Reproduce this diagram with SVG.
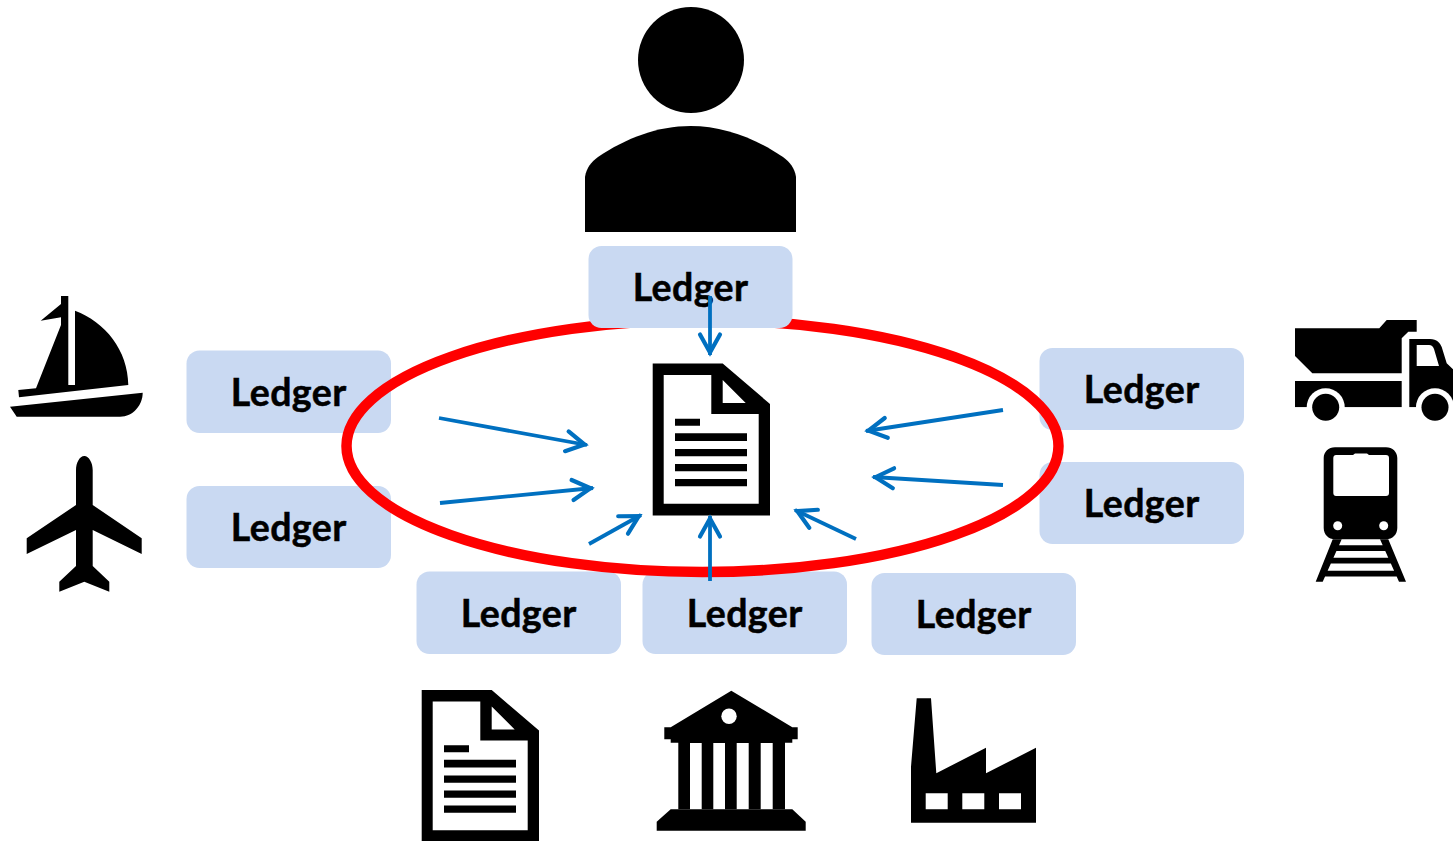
<svg xmlns="http://www.w3.org/2000/svg" width="1453" height="841" viewBox="0 0 1453 841">
<style>
.box{fill:#c9d9f2}
.lbl{font-family:"Lato","Liberation Sans",sans-serif;font-weight:700;font-size:37.5px;letter-spacing:.4px;fill:#000;stroke:#000;stroke-width:.5px;text-anchor:middle}
.conn{fill:none;stroke:#0070c0;stroke-width:3.8;marker-end:url(#arr)}
</style>
<defs>
<marker id="arr" markerUnits="userSpaceOnUse" markerWidth="30" markerHeight="30" refX="27.500" refY="15" orient="auto" overflow="visible">
<path d="M7 5 L25 15 L7 25" fill="none" stroke="#0070c0" stroke-width="4.200" stroke-linecap="round"/>
</marker>
<symbol id="doc" overflow="visible">
<path fill-rule="evenodd" d="M652.7 363.500H722.7L770 404V515.500H652.7ZM663.7 375V503.700H758.700V414H711.300V375ZM722.700 380V403H745.700Z"/>
<path d="M675 418.700H700V425.700H675ZM675 433.300H747V441H675ZM675 449H747V456.300H675ZM675 464H747V471.300H675ZM675 479H747V486.300H675Z"/>
</symbol>
</defs>
<rect width="1453" height="841" fill="#fff"/>
<g id="ledger-left-1"><rect class="box" x="186.500" y="350.500" width="204.500" height="82.500" rx="13"/><text class="lbl" x="288.700" y="405.700">Ledger</text></g>
<g id="ledger-left-2"><rect class="box" x="186.500" y="486" width="204.500" height="82" rx="13"/><text class="lbl" x="288.700" y="540.700">Ledger</text></g>
<g id="ledger-right-1"><rect class="box" x="1039.500" y="348" width="204.500" height="82" rx="13"/><text class="lbl" x="1141.700" y="402.700">Ledger</text></g>
<g id="ledger-right-2"><rect class="box" x="1039.500" y="462" width="204.500" height="82" rx="13"/><text class="lbl" x="1141.700" y="516.700">Ledger</text></g>
<g id="ledger-bottom-1"><rect class="box" x="416.500" y="571.500" width="204.500" height="82.500" rx="13"/><text class="lbl" x="518.700" y="626.700">Ledger</text></g>
<g id="ledger-bottom-2"><rect class="box" x="642.500" y="571.500" width="204.500" height="82.500" rx="13"/><text class="lbl" x="744.700" y="626.700">Ledger</text></g>
<g id="ledger-bottom-3"><rect class="box" x="871.500" y="573" width="204.500" height="82" rx="13"/><text class="lbl" x="973.700" y="627.700">Ledger</text></g>
<ellipse id="ring" cx="702.500" cy="446" rx="356" ry="126" fill="none" stroke="#ff0000" stroke-width="10.500"/>
<g id="ledger-top"><rect class="box" x="588.500" y="246" width="204" height="82" rx="13"/><text class="lbl" x="690.500" y="300.700">Ledger</text></g>
<g id="person"><circle cx="691" cy="60" r="53"/><path d="M585 232V176.700C586.500 168 591 162 598 157C626 138 658 126 690.500 126C723 126 755 138 783 157C790 162 794.500 168 796 176.700V232Z"/></g>
<g id="document-center"><use href="#doc"/></g>
<g id="document-bottom"><use href="#doc" x="-231" y="326.500"/></g>
<g id="ship"><path d="M61 296H68.300V385H75V310.700C105 322 128 350 128.300 385L19 397.300L18.300 390L36 388.300L61 325V317.300L40.700 320.700L61 304Z"/><path d="M10 406.700L142.700 392.700C142.700 405 133 416.700 120 416.700H16.700Z"/></g>
<g id="plane"><path d="M84.300 456C89 456 92.700 463 92.700 470V505L141.700 538.300V554L92.700 530V566L109.300 581.700V591.700L84.300 581.700L59.300 591.700V581.700L76 566V530L26.700 554V538.300L76 505V470C76 463 79.500 456 84.300 456Z"/></g>
<g id="truck"><path d="M1295 328.300H1379.300L1386.700 320H1416.700V331.700H1408.300L1401.700 338.300V373.300H1312.300L1295 356Z"/><path d="M1295 381H1401.700V407.300H1295Z"/><path fill-rule="evenodd" d="M1409.300 339H1430C1437 339 1440 343 1441.700 347L1446.700 363.300L1453 369.300V407.300H1409.300ZM1416.700 345V366H1439L1434 349C1433 346.500 1431.500 345 1429 345Z"/><circle cx="1325.700" cy="407.300" r="19" fill="#fff"/><circle cx="1435" cy="407.300" r="19" fill="#fff"/><rect x="1295" y="407.300" width="158" height="14" fill="#fff"/><circle cx="1325.700" cy="407.300" r="13.500"/><circle cx="1435" cy="407.300" r="13.500"/></g>
<g id="train"><path fill-rule="evenodd" d="M1335 447.300H1386C1392.500 447.300 1397.300 452 1397.300 458V528C1397.300 534.500 1392.500 539.300 1386 539.300H1335C1328.500 539.300 1323.700 534.500 1323.700 528V458C1323.700 452 1328.500 447.300 1335 447.300ZM1336 455C1334.500 455 1333.300 456.200 1333.300 458V493C1333.300 495 1334.500 496 1336 496H1386C1388 496 1389 495 1389 493V458C1389 456.200 1388 455 1386 455H1369L1367 453.500H1355L1353 455Z"/><circle cx="1337.700" cy="525.700" r="4.500" fill="#fff"/><circle cx="1383.700" cy="525.700" r="4.500" fill="#fff"/><path d="M1332.700 539.300H1341.700L1322.700 581.700H1315.700ZM1380 539.300H1388.300L1406 581.700H1399ZM1335 545.300H1387V551H1335ZM1330 557.700H1392V563.500H1330ZM1322 570.700H1400V576.500H1322Z"/></g>
<g id="bank"><path d="M731.300 690.700L792.300 727.300H797.700V739.300H792.300V742.700H670.700V739.300H664.300V727.300H670.700Z"/><circle cx="729" cy="716.300" r="7.700" fill="#fff"/><path fill-rule="evenodd" d="M678.300 742H785V809.300H678.300ZM690 743V809.300H701.700V743ZM713.300 743V809.300H725V743ZM736.700 743V809.300H748.700V743ZM760.700 743V809.300H772.700V743Z"/><path d="M670.700 809.300H792.300L805.700 821.700V830.700H656.700V821.700Z"/></g>
<g id="factory"><path fill-rule="evenodd" d="M916.700 698.300H931L936.300 773.300L986 747.700V773.300L1036 747.700V822.700H911V766.700ZM925.700 793.300V809.300H947.700V793.300ZM962.300 793.300V809.300H984.300V793.300ZM999 793.300V809.300H1021V793.300Z"/></g>
<g id="connectors">
<line class="conn" x1="710" y1="296" x2="710" y2="355"/>
<line class="conn" x1="439" y1="418" x2="587" y2="445"/>
<line class="conn" x1="440" y1="503" x2="593" y2="488"/>
<line class="conn" x1="589" y1="544" x2="641" y2="515"/>
<line class="conn" x1="710" y1="581" x2="710" y2="516"/>
<line class="conn" x1="856" y1="539" x2="795" y2="510"/>
<line class="conn" x1="1003" y1="410" x2="866" y2="431"/>
<line class="conn" x1="1003" y1="485" x2="873" y2="477"/>
</g>
</svg>
